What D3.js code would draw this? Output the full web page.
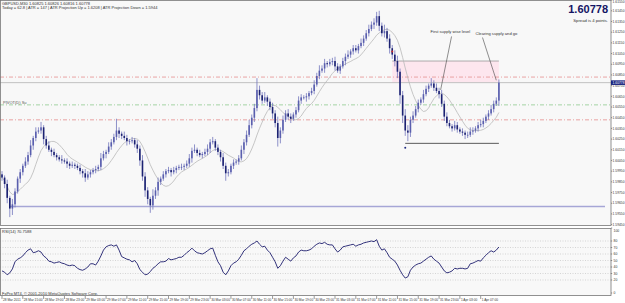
<!DOCTYPE html>
<html>
<head>
<meta charset="utf-8">
<script src="https://cdn.jsdelivr.net/npm/d3@7.9.0/dist/d3.min.js"></script>
<style>
  html, body { margin: 0; padding: 0; background: #fff; }
  svg { display: block; font-family: "Liberation Sans", Arial, sans-serif; }
</style>
</head>
<body>
<svg id="chart" width="625" height="303"></svg>
<script>
// GBPUSD M30 closes, 28 Mar 11:00 -> 1 Apr 10:30
const closes = [
  1.5989, 1.5983, 1.5970, 1.5960, 1.5964, 1.5976, 1.5988, 1.5994, 1.6000, 1.6004,
  1.6010, 1.6019, 1.6026, 1.6032, 1.6033, 1.6036, 1.6025, 1.6019, 1.6015, 1.6013,
  1.6010, 1.6008, 1.6006, 1.6005, 1.6004, 1.6002, 1.6000, 1.6001, 1.6000, 1.5998,
  1.5995, 1.5993, 1.5989, 1.5992, 1.5994, 1.5996, 1.5997, 1.5999, 1.6007, 1.6011,
  1.6013, 1.6018, 1.6022, 1.6027, 1.6033, 1.6030, 1.6028, 1.6026, 1.6023, 1.6023,
  1.6024, 1.6020, 1.6016, 1.6005, 1.5990, 1.5977, 1.5969, 1.5963, 1.5972, 1.5977,
  1.5985, 1.5988, 1.5992, 1.5995, 1.5996, 1.5994, 1.5996, 1.5998, 1.5999, 1.5999,
  1.6000, 1.6002, 1.6007, 1.6014, 1.6015, 1.6012, 1.6010, 1.6011, 1.6013, 1.6016,
  1.6022, 1.6023, 1.6017, 1.6013, 1.6008, 1.6000, 1.5993, 1.5994, 1.6000, 1.6003,
  1.6004, 1.6007, 1.6015, 1.6022, 1.6029, 1.6038, 1.6045, 1.6054, 1.6071, 1.6066,
  1.6061, 1.6064, 1.6060, 1.6055, 1.6049, 1.6040, 1.6026, 1.6033, 1.6043, 1.6049,
  1.6046, 1.6044, 1.6048, 1.6052, 1.6061, 1.6064, 1.6064, 1.6065, 1.6068, 1.6070,
  1.6076, 1.6084, 1.6089, 1.6091, 1.6096, 1.6095, 1.6097, 1.6098, 1.6093, 1.6089,
  1.6093, 1.6098, 1.6102, 1.6104, 1.6107, 1.6110, 1.6108, 1.6112, 1.6115, 1.6119,
  1.6124, 1.6128, 1.6132, 1.6134, 1.6140, 1.6131, 1.6124, 1.6126, 1.6119, 1.6110,
  1.6104, 1.6098, 1.6088, 1.6066, 1.6047, 1.6033, 1.6031, 1.6043, 1.6047, 1.6053,
  1.6059, 1.6062, 1.6067, 1.6072, 1.6075, 1.6077, 1.6073, 1.6070, 1.6067, 1.6058,
  1.6046, 1.6040, 1.6037, 1.6035, 1.6038, 1.6034, 1.6032, 1.6031, 1.6029, 1.6029,
  1.6032, 1.6033, 1.6035, 1.6038, 1.6039, 1.6042, 1.6046, 1.6049, 1.6053, 1.6058,
  1.6061, 1.60778
];
const firstOpen = 1.5992;

// wick length above / below the body, in pips
const wickUp = [
  3, 2, 4, 2, 5, 3, 2, 3, 2, 4,   3, 5, 2, 4, 3, 5, 2, 3, 4, 2,
  3, 2, 2, 4, 2, 3, 2, 3, 2, 2,   3, 2, 4, 3, 2, 2, 3, 2, 5, 3,
  2, 4, 3, 3, 11, 3, 2, 4, 3, 2,  3, 2, 4, 3, 5, 4, 3, 2, 6, 3,
  4, 2, 3, 2, 3, 2, 3, 2, 2, 3,   2, 3, 4, 3, 5, 2, 3, 2, 3, 4,
  3, 4, 2, 3, 2, 4, 3, 3, 2, 3,   2, 3, 4, 3, 4, 5, 3, 4, 11, 4,
  3, 5, 2, 3, 4, 3, 6, 3, 4, 3,   4, 3, 2, 3, 4, 3, 2, 3, 2, 3,
  4, 3, 5, 3, 4, 2, 3, 3, 4, 3,   2, 3, 3, 4, 2, 3, 3, 2, 4, 3,
  3, 4, 3, 4, 4, 5, 3, 6, 3, 4,   3, 4, 5, 3, 4, 6, 5, 3, 4, 3,
  3, 2, 4, 3, 2, 5, 3, 4, 3, 4,   3, 4, 3, 2, 4, 3, 2, 3, 2, 3,
  4, 3, 2, 3, 4, 3, 2, 3, 4, 3,   3, 3
];
const wickDown = [
  3, 4, 5, 8, 6, 3, 2, 4, 3, 2,   3, 2, 4, 3, 2, 3, 5, 3, 2, 4,
  2, 3, 2, 3, 2, 4, 3, 2, 3, 2,   3, 4, 4, 2, 3, 2, 3, 2, 3, 2,
  4, 2, 3, 2, 3, 4, 3, 2, 4, 3,   2, 3, 4, 5, 4, 6, 5, 7, 4, 3,
  5, 3, 2, 3, 2, 4, 2, 3, 2, 3,   3, 2, 3, 4, 2, 3, 2, 3, 2, 3,
  4, 2, 3, 3, 4, 3, 7, 3, 2, 3,   2, 3, 2, 4, 3, 2, 3, 4, 3, 4,
  3, 2, 4, 3, 5, 4, 8, 5, 3, 2,   3, 4, 2, 3, 2, 3, 2, 4, 3, 2,
  3, 2, 3, 2, 4, 3, 2, 3, 4, 2,   3, 2, 4, 2, 3, 3, 2, 3, 2, 3,
  2, 3, 2, 4, 3, 5, 3, 4, 3, 5,   4, 5, 6, 8, 7, 5, 8, 4, 3, 2,
  3, 2, 3, 2, 3, 2, 3, 2, 4, 3,   4, 3, 2, 3, 2, 3, 2, 3, 4, 3,
  2, 3, 2, 3, 2, 3, 2, 3, 2, 3,   2, 5
];

// RSI(14) line, one value per bar
const rsiValues = [
  34, 32, 28, 31, 37, 48, 52, 54, 57, 62,   66, 68, 62, 63, 65, 63, 57, 54, 49, 48,
  46, 47, 48, 46, 45, 43, 42, 43, 42, 38,   36, 35, 37, 40, 45, 45, 43, 49, 57, 66,
  71, 73, 74, 72, 74, 66, 56, 54, 52, 51,   48, 50, 45, 36, 32, 28, 29, 33, 38, 41,
  45, 48, 48, 49, 53, 51, 52, 53, 55, 55,   58, 62, 65, 69, 65, 62, 61, 60, 62, 65,
  68, 69, 58, 48, 42, 32, 28, 34, 42, 46,   48, 52, 58, 65, 68, 72, 75, 77, 80, 75,
  71, 72, 66, 62, 55, 48, 38, 42, 49, 55,   52, 49, 54, 57, 63, 66, 65, 65, 66, 68,
  72, 75, 77, 76, 78, 75, 74, 74, 68, 63,   66, 71, 72, 73, 74, 75, 72, 74, 75, 77,
  78, 79, 80, 79, 82, 72, 66, 68, 62, 55,   52, 49, 43, 35, 28, 23, 25, 35, 40, 43,
  45, 46, 49, 52, 55, 57, 52, 49, 46, 40,   34, 31, 32, 34, 38, 37, 38, 38, 37, 38,
  45, 46, 48, 50, 49, 54, 58, 62, 65, 63,   66, 70.7588
];

const priceTicks = [1.6155, 1.6145, 1.6135, 1.6125, 1.6115, 1.6105, 1.6095, 1.6085,
  1.6075, 1.6065, 1.6055, 1.6045, 1.6035, 1.6025, 1.6015, 1.6005, 1.5995, 1.5985,
  1.5975, 1.5965, 1.5955, 1.5945];
const timeLabels = ['28 Mar 2011', '28 Mar 15:00', '28 Mar 19:00', '28 Mar 23:00',
  '29 Mar 03:00', '29 Mar 07:00', '29 Mar 11:00', '29 Mar 15:00', '29 Mar 19:00',
  '29 Mar 23:00', '30 Mar 03:00', '30 Mar 07:00', '30 Mar 11:00', '30 Mar 15:00',
  '30 Mar 19:00', '30 Mar 23:00', '31 Mar 03:00', '31 Mar 07:00', '31 Mar 11:00',
  '31 Mar 15:00', '31 Mar 19:00', '31 Mar 23:00', '1 Apr 03:00', '1 Apr 07:00'];
const barsPerLabel = 8;

const rsiLevels = [80, 70, 60, 50, 40, 30, 20];
const rsiAxisLabels = [100, 80, 70, 60, 50, 40, 30, 20, 0];

const bid = 1.60778;
const redLevels = [1.6083, 1.6043];
const pivotLevel = 1.6057;
const supportLevel = 1.5962;     // lavender line from the low
const lowLine = 1.6021;          // black line under the 31 Mar low
const supplyZone = [1.6098, 1.6078];

const W = 625, H = 303;
const axisX = 611;
const mainTop = 0, mainBottom = 226;
const rsiTop = 228, rsiBottom = 296;

const svg = d3.select('#chart');

const x = d3.scaleLinear().domain([0, closes.length - 1]).range([2, 498.9]);
const y = d3.scaleLinear().domain([1.5945, 1.6155]).range([224.6, 0.1]);
const ry = d3.scaleLinear().domain([0, 100]).range([293, 228]);

// backgrounds
svg.append('rect').attr('width', W).attr('height', H).attr('fill', '#ffffff');
svg.append('rect').attr('x', 0).attr('y', mainTop).attr('width', axisX).attr('height', mainBottom - mainTop)
  .attr('fill', '#f8f8f8');
svg.append('rect').attr('x', 0).attr('y', rsiTop).attr('width', axisX).attr('height', rsiBottom - rsiTop)
  .attr('fill', '#f8f8f8');

const defs = svg.append('defs');
defs.append('clipPath').attr('id', 'clipMain').append('rect')
  .attr('x', 0).attr('y', mainTop).attr('width', axisX).attr('height', mainBottom - mainTop);
defs.append('clipPath').attr('id', 'clipRsi').append('rect')
  .attr('x', 0).attr('y', rsiTop).attr('width', axisX).attr('height', rsiBottom - rsiTop);

const main = svg.append('g').attr('clip-path', 'url(#clipMain)');

// supply zone
main.append('rect')
  .attr('x', x(150)).attr('y', y(supplyZone[0]))
  .attr('width', x(191) - x(150)).attr('height', y(supplyZone[1]) - y(supplyZone[0]))
  .attr('fill', '#fde6ee');
main.append('line')
  .attr('x1', x(150)).attr('x2', x(191)).attr('y1', y(supplyZone[0])).attr('y2', y(supplyZone[0]))
  .attr('stroke', '#9a9a9a').attr('stroke-width', 0.8);

// horizontal levels
redLevels.forEach(p => {
  main.append('line').attr('x1', 0).attr('x2', axisX).attr('y1', y(p)).attr('y2', y(p))
    .attr('stroke', '#e79a9a').attr('stroke-width', 0.9).attr('stroke-dasharray', '4,2,1,2');
});
main.append('line').attr('x1', 0).attr('x2', axisX).attr('y1', y(pivotLevel)).attr('y2', y(pivotLevel))
  .attr('stroke', '#9ccf9c').attr('stroke-width', 0.9).attr('stroke-dasharray', '4,2,1,2');
main.append('text').attr('x', 3).attr('y', y(pivotLevel) - 0.8)
  .attr('font-size', 4).attr('fill', '#555').text('PIVOT(D) Su');
main.append('line').attr('x1', 0).attr('x2', axisX).attr('y1', y(bid)).attr('y2', y(bid))
  .attr('stroke', '#b4b4b4').attr('stroke-width', 0.8);

main.append('line').attr('x1', x(3)).attr('x2', 605).attr('y1', y(supportLevel)).attr('y2', y(supportLevel))
  .attr('stroke', '#a6a6d6').attr('stroke-width', 1.5);
main.append('line').attr('x1', x(155)).attr('x2', x(191)).attr('y1', y(lowLine)).attr('y2', y(lowLine))
  .attr('stroke', '#333').attr('stroke-width', 0.8);

// moving average (SMA 10 of closes)
const maPeriod = 10;
const ma = closes.map((c, i) => d3.mean(closes.slice(Math.max(0, i - maPeriod + 1), i + 1)));
main.append('path')
  .attr('d', d3.line().x((d, i) => x(i)).y(d => y(d))(ma))
  .attr('fill', 'none').attr('stroke', '#b9b9b9').attr('stroke-width', 0.8);

// candles
const bars = closes.map((c, i) => {
  const o = i === 0 ? firstOpen : closes[i - 1];
  return {
    i, o, c,
    h: Math.max(o, c) + wickUp[i] * 0.0001,
    l: Math.min(o, c) - wickDown[i] * 0.0001
  };
});
main.append('g').selectAll('line').data(bars).join('line')
  .attr('x1', d => x(d.i)).attr('x2', d => x(d.i))
  .attr('y1', d => y(d.h)).attr('y2', d => y(d.l))
  .attr('stroke', '#7276bc').attr('stroke-width', 0.8);
main.append('g').selectAll('rect').data(bars).join('rect')
  .attr('x', d => x(d.i) - 0.8).attr('width', 1.6)
  .attr('y', d => y(Math.max(d.o, d.c)))
  .attr('height', d => Math.max(0.8, Math.abs(y(d.o) - y(d.c))))
  .attr('fill', d => d.c >= d.o ? '#5a5fae' : '#1c2272');

// markers
main.append('circle').attr('cx', x(150)).attr('cy', y(1.6107)).attr('r', 1).attr('fill', '#d03030');
main.append('circle').attr('cx', x(155)).attr('cy', y(1.6017)).attr('r', 1).attr('fill', '#202a80');

// annotations
main.append('line').attr('x1', x(172.8)).attr('y1', y(1.6121)).attr('x2', x(168.6)).attr('y2', y(1.6071))
  .attr('stroke', '#444').attr('stroke-width', 0.6);
main.append('line').attr('x1', x(184.7)).attr('y1', y(1.6120)).attr('x2', x(190)).attr('y2', y(1.6080))
  .attr('stroke', '#444').attr('stroke-width', 0.6);
main.append('text').attr('x', x(164.7)).attr('y', y(1.6124)).attr('font-size', 4.1).attr('fill', '#333')
  .text('First supply wise level');
main.append('text').attr('x', x(182)).attr('y', y(1.6122)).attr('font-size', 4.1).attr('fill', '#333')
  .text('Clearing supply and go');

// header texts
svg.append('text').attr('x', 2).attr('y', 4.5).attr('font-size', 4).attr('fill', '#333')
  .text('GBPUSD,M30  1.60825 1.60826 1.60816 1.60778');
svg.append('text').attr('x', 2).attr('y', 9).attr('font-size', 4).attr('fill', '#333')
  .text('Today = 62.8   |   ATR = 147   |   ATR Projection Up = 1.6208   |   ATR Projection Down = 1.5944');

svg.append('text').attr('x', 608).attr('y', 13).attr('text-anchor', 'end')
  .attr('font-weight', 'bold').attr('font-size', 11)
  .attr('fill', '#141464').text(bid.toFixed(5));
svg.append('text').attr('x', 608).attr('y', 22).attr('text-anchor', 'end')
  .attr('font-size', 4.2).attr('fill', '#333').text('Spread is 4 points.');

// RSI panel
const rsiG = svg.append('g').attr('clip-path', 'url(#clipRsi)');
rsiLevels.forEach(v => {
  rsiG.append('line').attr('x1', 0).attr('x2', axisX).attr('y1', ry(v)).attr('y2', ry(v))
    .attr('stroke', '#bdbdbd').attr('stroke-width', 0.6).attr('stroke-dasharray', '1,1.5');
});
rsiG.append('path')
  .attr('d', d3.line().x((d, i) => x(i)).y(d => ry(d))(rsiValues))
  .attr('fill', 'none').attr('stroke', '#1c1c6c').attr('stroke-width', 0.9);
svg.append('text').attr('x', 2).attr('y', 233).attr('font-size', 4).attr('fill', '#333')
  .text('RSI(14) ' + rsiValues[rsiValues.length - 1].toFixed(4));
svg.append('text').attr('x', 2).attr('y', 294.5).attr('font-size', 4).attr('fill', '#333')
  .text('FxPro MT4, \u00a9 2001-2010 MetaQuotes Software Corp.');

// frames
[[mainTop, mainBottom], [rsiTop, rsiBottom]].forEach(([t, b]) => {
  svg.append('rect').attr('x', 0.5).attr('y', t + 0.5).attr('width', axisX - 0.5).attr('height', b - t - 1)
    .attr('fill', 'none').attr('stroke', '#777').attr('stroke-width', 0.8);
});

// right price axis
const pa = svg.append('g');
priceTicks.forEach(p => {
  pa.append('line').attr('x1', axisX).attr('x2', axisX + 1.2).attr('y1', y(p)).attr('y2', y(p))
    .attr('stroke', '#555').attr('stroke-width', 0.6);
  pa.append('text').attr('x', axisX + 1.6).attr('y', Math.max(y(p) + 1.2, 3))
    .attr('font-size', 3.3).attr('fill', '#333').text(p.toFixed(5));
});
pa.append('rect').attr('x', axisX).attr('y', y(bid) - 2.3).attr('width', W - axisX).attr('height', 4.6)
  .attr('fill', '#1a237e');
pa.append('text').attr('x', axisX + 1.6).attr('y', y(bid) + 1.2)
  .attr('font-size', 3.3).attr('fill', '#fff').text(bid.toFixed(5));

rsiAxisLabels.forEach(v => {
  pa.append('line').attr('x1', axisX).attr('x2', axisX + 1.2).attr('y1', ry(v)).attr('y2', ry(v))
    .attr('stroke', '#555').attr('stroke-width', 0.6);
  pa.append('text').attr('x', axisX + 2.5).attr('y', Math.min(Math.max(ry(v) + 1.2, rsiTop + 3.5), rsiBottom - 1))
    .attr('font-size', 3.4).attr('fill', '#333').text(v);
});

// time axis
const ta = svg.append('g');
timeLabels.forEach((t, k) => {
  const xi = x(k * barsPerLabel);
  ta.append('line').attr('x1', xi).attr('x2', xi).attr('y1', rsiBottom).attr('y2', rsiBottom + 3)
    .attr('stroke', '#555').attr('stroke-width', 0.6);
  ta.append('text').attr('x', xi + 1).attr('y', 301.3).attr('font-size', 3.2)
    .attr('fill', '#333').text(t);
});
</script>
</body>
</html>
